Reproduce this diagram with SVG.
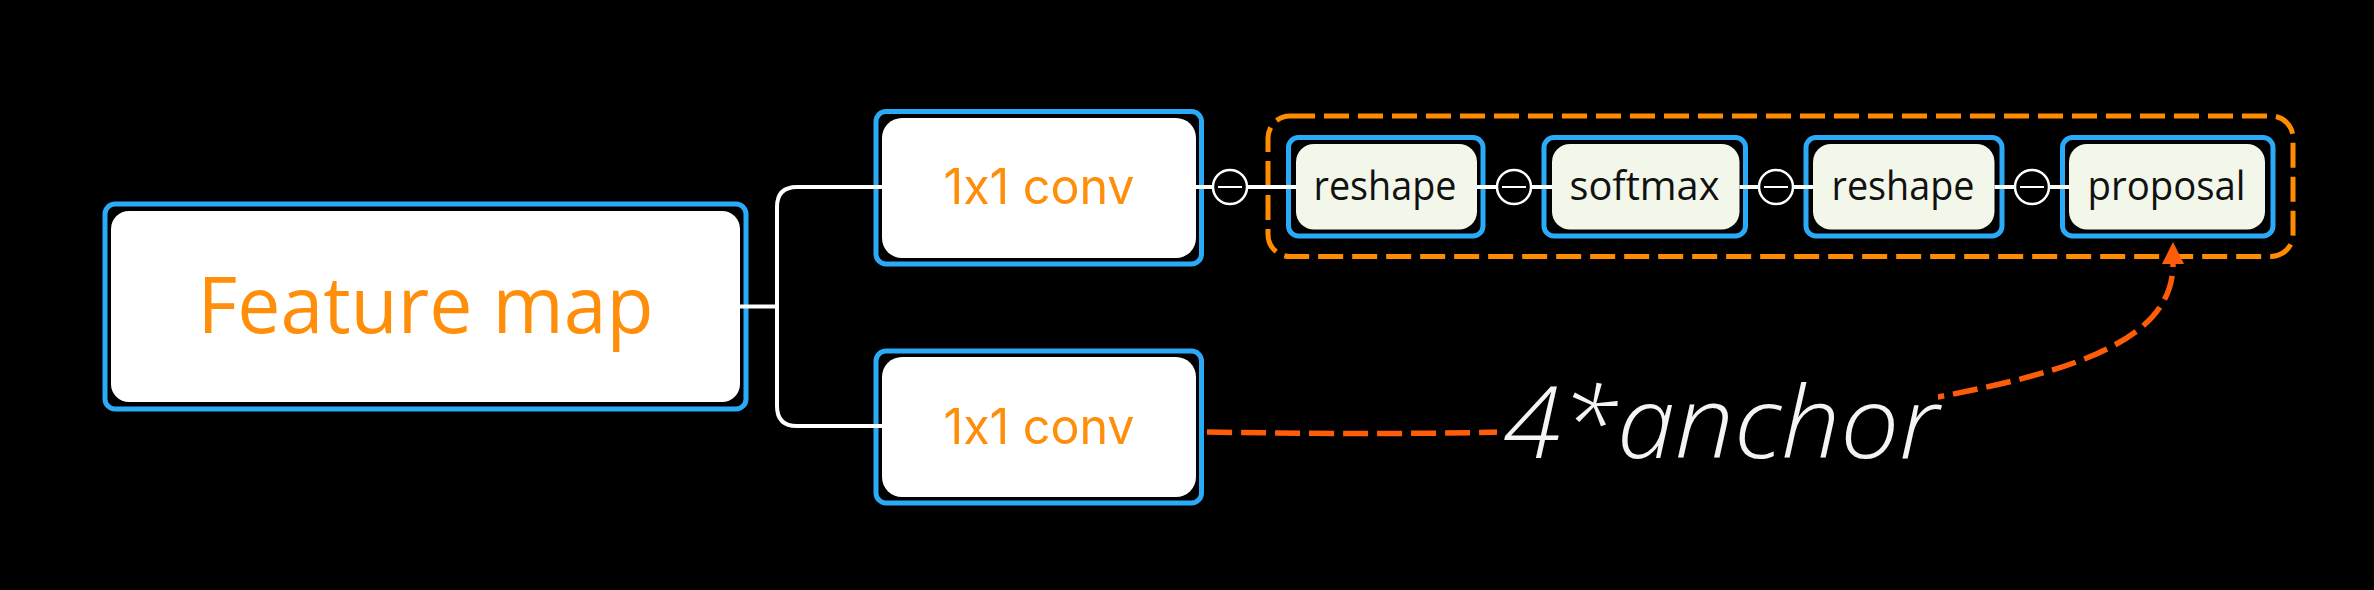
<svg xmlns="http://www.w3.org/2000/svg" width="2374" height="590" viewBox="0 0 2374 590">
  <style>
    .frame { fill: none; stroke: #2BABF7; stroke-width: 5; }
    .big { fill: #FFFFFF; }
    .small { fill: #F2F7EA; }
    .orangeTxt { fill: #FF8E0B; text-anchor: middle; }
    .conv { font-family: Inter, "Liberation Sans", sans-serif; font-size: 49px; font-weight: 400; font-feature-settings: "calt" 0, "liga" 0; font-variant-ligatures: none; }
    .blackTxt { fill: #111111; font-family: "Open Sans", "Liberation Sans", sans-serif; font-size: 40px; text-anchor: middle; }
    .wire { fill: none; stroke: #FFFFFF; stroke-width: 4; }
    .junction { fill: #000000; stroke: #FFFFFF; stroke-width: 2.5; }
    .minus { stroke: #FFFFFF; stroke-width: 2; }
  </style>
  <defs>
    <marker id="arrow" markerUnits="userSpaceOnUse" markerWidth="24" markerHeight="24" refX="0" refY="11" orient="auto">
      <path d="M0,0 L22,11 L0,22 z" fill="#FF5C0A"/>
    </marker>
  </defs>
  <rect x="0" y="0" width="2374" height="590" fill="#000000"/>

  <g id="group-dashed">
    <rect x="1268" y="116" width="1025" height="140.5" rx="22" fill="none" stroke="#FF8C00" stroke-width="5" stroke-dasharray="25 9"/>
  </g>

  <g id="node-feature-map">
    <rect class="big" x="111" y="211" width="629" height="191" rx="18"/>
    <rect class="frame" x="105" y="204" width="641" height="205" rx="10"/>
    <text class="orangeTxt" x="425.5" y="333" font-family="'Open Sans', 'Liberation Sans', sans-serif" font-size="78" textLength="456" lengthAdjust="spacingAndGlyphs">Feature map</text>
  </g>

  <g id="node-conv-top">
    <rect class="big" x="882" y="118" width="314" height="140" rx="20"/>
    <rect class="frame" x="876" y="111.5" width="325.5" height="152.5" rx="10"/>
    <text class="orangeTxt conv" x="1039" y="204" textLength="191" lengthAdjust="spacingAndGlyphs">1x1 conv</text>
  </g>

  <g id="node-conv-bottom">
    <rect class="big" x="882" y="357" width="314" height="140" rx="20"/>
    <rect class="frame" x="876" y="351" width="325.5" height="152" rx="10"/>
    <text class="orangeTxt conv" x="1039" y="444" textLength="191" lengthAdjust="spacingAndGlyphs">1x1 conv</text>
  </g>

  <g id="node-reshape-1">
    <rect class="small" x="1296" y="144" width="181" height="85.5" rx="18"/>
    <rect class="frame" x="1288.5" y="137.5" width="194.5" height="98.5" rx="10"/>
    <text class="blackTxt" x="1385" y="200" textLength="143" lengthAdjust="spacingAndGlyphs">reshape</text>
  </g>

  <g id="node-softmax">
    <rect class="small" x="1552" y="144" width="187.5" height="85.5" rx="18"/>
    <rect class="frame" x="1544" y="137.5" width="201.5" height="98.5" rx="10"/>
    <text class="blackTxt" x="1644.5" y="200" textLength="150" lengthAdjust="spacingAndGlyphs">softmax</text>
  </g>

  <g id="node-reshape-2">
    <rect class="small" x="1813" y="144" width="181.5" height="85.5" rx="18"/>
    <rect class="frame" x="1806" y="137.5" width="196" height="98.5" rx="10"/>
    <text class="blackTxt" x="1903" y="200" textLength="143" lengthAdjust="spacingAndGlyphs">reshape</text>
  </g>

  <g id="node-proposal">
    <rect class="small" x="2069" y="144" width="196" height="85.5" rx="18"/>
    <rect class="frame" x="2062.5" y="137.5" width="210.5" height="98.5" rx="10"/>
    <text class="blackTxt" x="2166.5" y="200" textLength="158" lengthAdjust="spacingAndGlyphs">proposal</text>
  </g>

  <g id="connectors">
    <path class="wire" d="M740,306.5 H777"/>
    <path class="wire" d="M882,187 H797 Q777,187 777,207 V406 Q777,426 797,426 H882"/>

    <path class="wire" d="M1196,187 H1296"/>
    <circle class="junction" cx="1230" cy="187" r="17"/>
    <line class="minus" x1="1218" y1="187" x2="1242" y2="187"/>

    <path class="wire" d="M1477,187 H1552"/>
    <circle class="junction" cx="1514" cy="187" r="17"/>
    <line class="minus" x1="1502" y1="187" x2="1526" y2="187"/>

    <path class="wire" d="M1739.5,187 H1813"/>
    <circle class="junction" cx="1776" cy="187" r="17"/>
    <line class="minus" x1="1764" y1="187" x2="1788" y2="187"/>

    <path class="wire" d="M1994.5,187 H2069"/>
    <circle class="junction" cx="2032" cy="187" r="17"/>
    <line class="minus" x1="2020" y1="187" x2="2044" y2="187"/>

    <path d="M1207,432 C1500,437 1750,430 1938,397 C2080,370 2173,338 2173,264" fill="none" stroke="#FF5C0A" stroke-width="5.5" stroke-dasharray="25 9" marker-end="url(#arrow)"/>
    <g id="label-anchor">
      <rect x="1497" y="378" width="441" height="100" fill="#000000"/>
      <text x="1503" y="458" font-family="'Open Sans', 'Liberation Sans', sans-serif" font-style="italic" font-weight="300" font-size="100" fill="#F4F4F4" textLength="436" lengthAdjust="spacingAndGlyphs">4*anchor</text>
    </g>
  </g>
</svg>
